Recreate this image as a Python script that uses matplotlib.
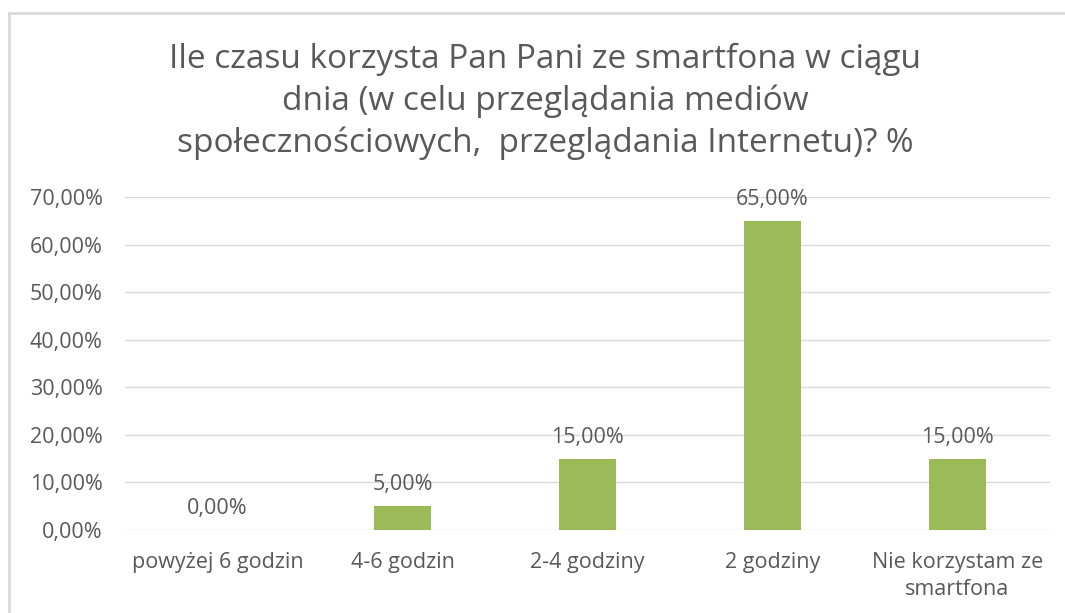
import matplotlib.pyplot as plt
from matplotlib.patches import Rectangle

categories = ["powyżej 6 godzin", "4-6 godzin", "2-4 godziny", "2 godziny", "Nie korzystam ze\nsmartfona"]
values = [0.0, 5.0, 15.0, 65.0, 15.0]
yticks = [0, 10, 20, 30, 40, 50, 60, 70]
title = ("Ile czasu korzysta Pan Pani ze smartfona w ciągu\n"
         "dnia (w celu przeglądania mediów\n"
         "społecznościowych,  przeglądania Internetu)? %")

plt.rcParams['font.family'] = ['Open Sans', 'DejaVu Sans']
txt = "#595959"

fig = plt.figure(figsize=(10.65, 6.13), dpi=100)
fig.patches.append(Rectangle((9 / 1065, -0.1), 1.2, 1 - 13 / 613 + 0.1, transform=fig.transFigure,
                             fill=False, edgecolor="#D9D9D9", linewidth=2))
ax = fig.add_axes([125 / 1065, 1 - 530 / 613, 925 / 1065, 333 / 613])

x = range(len(categories))
bars = ax.bar(x, values, width=0.31, color="#9BBB59", zorder=3)
for xi, v in zip(x, values):
    ax.text(xi, v + 2.3, f"{v:.2f}%".replace(".", ","), ha="center", va="bottom",
            fontsize=15.5, color=txt)

ax.set_xlim(-0.5, len(categories) - 0.5)
ax.set_ylim(0, 70)
ax.set_yticks(yticks)
ax.set_yticklabels([f"{t:.2f}%".replace(".", ",") for t in yticks], fontsize=15.5, color=txt)
ax.set_xticks(list(x))
ax.set_xticklabels(categories, fontsize=15.5, color=txt, linespacing=1.35)
ax.tick_params(length=0, pad=16)
ax.tick_params(axis="x", pad=16)
ax.grid(axis="y", color="#D9D9D9", linewidth=1, zorder=0)
for s in ax.spines.values():
    s.set_visible(False)

fig.text(545 / 1065, 1 - 101 / 613, title, ha="center", va="center", fontsize=24,
         color=txt, linespacing=1.33)

fig.savefig("out.png", dpi=100)
